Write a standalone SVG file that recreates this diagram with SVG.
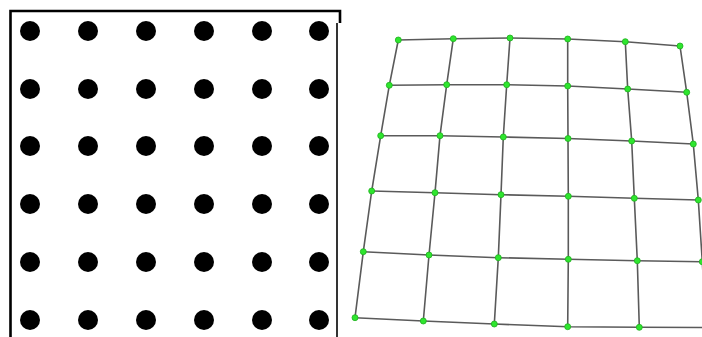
<svg xmlns="http://www.w3.org/2000/svg" width="702" height="337" viewBox="0 0 702 337">
<style>
.dot{fill:#000}
.frame{stroke:#000;fill:none}
.edge{stroke:#5a5a5a;stroke-width:1.6;fill:none}
.pt{fill:#2ee62e;stroke:#1fae1f;stroke-width:0.8}
</style>
<rect width="702" height="337" fill="#fff"/>
<g id="left-panel">
<path class="frame" stroke-width="2.6" d="M10.5 337 V11 H340 V23"/>
<path class="frame" stroke-width="1.6" d="M337 23 V337"/>
<g id="dots">
<circle class="dot" cx="30" cy="31" r="10"/><circle class="dot" cx="88" cy="31" r="10"/><circle class="dot" cx="146" cy="31" r="10"/><circle class="dot" cx="204" cy="31" r="10"/><circle class="dot" cx="262" cy="31" r="10"/><circle class="dot" cx="319" cy="31" r="10"/>
<circle class="dot" cx="30" cy="89" r="10"/><circle class="dot" cx="88" cy="89" r="10"/><circle class="dot" cx="146" cy="89" r="10"/><circle class="dot" cx="204" cy="89" r="10"/><circle class="dot" cx="262" cy="89" r="10"/><circle class="dot" cx="319" cy="89" r="10"/>
<circle class="dot" cx="30" cy="146" r="10"/><circle class="dot" cx="88" cy="146" r="10"/><circle class="dot" cx="146" cy="146" r="10"/><circle class="dot" cx="204" cy="146" r="10"/><circle class="dot" cx="262" cy="146" r="10"/><circle class="dot" cx="319" cy="146" r="10"/>
<circle class="dot" cx="30" cy="204" r="10"/><circle class="dot" cx="88" cy="204" r="10"/><circle class="dot" cx="146" cy="204" r="10"/><circle class="dot" cx="204" cy="204" r="10"/><circle class="dot" cx="262" cy="204" r="10"/><circle class="dot" cx="319" cy="204" r="10"/>
<circle class="dot" cx="30" cy="262" r="10"/><circle class="dot" cx="88" cy="262" r="10"/><circle class="dot" cx="146" cy="262" r="10"/><circle class="dot" cx="204" cy="262" r="10"/><circle class="dot" cx="262" cy="262" r="10"/><circle class="dot" cx="319" cy="262" r="10"/>
<circle class="dot" cx="30" cy="320" r="10"/><circle class="dot" cx="88" cy="320" r="10"/><circle class="dot" cx="146" cy="320" r="10"/><circle class="dot" cx="204" cy="320" r="10"/><circle class="dot" cx="262" cy="320" r="10"/><circle class="dot" cx="319" cy="320" r="10"/>
</g>
</g>
<g id="connectors">
<polyline class="edge" points="398.3,40 453.3,38.7 510,38 567.7,39 625.3,41.7 680,46"/>
<polyline class="edge" points="389.3,85.3 446.7,84.7 506.7,84.7 567.7,86 627.7,89 686.7,92.3"/>
<polyline class="edge" points="380.7,135.7 440,135.7 503.3,137 568,138.5 631.7,141 693.3,144"/>
<polyline class="edge" points="371.7,191 435,192.7 501,194.7 568.3,196.3 634.3,198.3 698.3,200"/>
<polyline class="edge" points="363.3,251.7 429,255 498.3,257.7 568.3,259.3 637.3,260.7 702.3,261.7"/>
<polyline class="edge" points="355,317.7 423.3,321 494.3,324 567.7,326.7 639.3,327.3 706,327.5"/>
<polyline class="edge" points="398.3,40 389.3,85.3 380.7,135.7 371.7,191 363.3,251.7 355,317.7"/>
<polyline class="edge" points="453.3,38.7 446.7,84.7 440,135.7 435,192.7 429,255 423.3,321"/>
<polyline class="edge" points="510,38 506.7,84.7 503.3,137 501,194.7 498.3,257.7 494.3,324"/>
<polyline class="edge" points="567.7,39 567.7,86 568,138.5 568.3,196.3 568.3,259.3 567.7,326.7"/>
<polyline class="edge" points="625.3,41.7 627.7,89 631.7,141 634.3,198.3 637.3,260.7 639.3,327.3"/>
<polyline class="edge" points="680,46 686.7,92.3 693.3,144 698.3,200 702.3,261.7 706,327.5"/>
</g>
<g id="nodes">
<g id="n00"><circle class="pt" cx="398.3" cy="40" r="3"/></g>
<g id="n01"><circle class="pt" cx="453.3" cy="38.7" r="3"/></g>
<g id="n02"><circle class="pt" cx="510" cy="38" r="3"/></g>
<g id="n03"><circle class="pt" cx="567.7" cy="39" r="3"/></g>
<g id="n04"><circle class="pt" cx="625.3" cy="41.7" r="3"/></g>
<g id="n05"><circle class="pt" cx="680" cy="46" r="3"/></g>
<g id="n10"><circle class="pt" cx="389.3" cy="85.3" r="3"/></g>
<g id="n11"><circle class="pt" cx="446.7" cy="84.7" r="3"/></g>
<g id="n12"><circle class="pt" cx="506.7" cy="84.7" r="3"/></g>
<g id="n13"><circle class="pt" cx="567.7" cy="86" r="3"/></g>
<g id="n14"><circle class="pt" cx="627.7" cy="89" r="3"/></g>
<g id="n15"><circle class="pt" cx="686.7" cy="92.3" r="3"/></g>
<g id="n20"><circle class="pt" cx="380.7" cy="135.7" r="3"/></g>
<g id="n21"><circle class="pt" cx="440" cy="135.7" r="3"/></g>
<g id="n22"><circle class="pt" cx="503.3" cy="137" r="3"/></g>
<g id="n23"><circle class="pt" cx="568" cy="138.5" r="3"/></g>
<g id="n24"><circle class="pt" cx="631.7" cy="141" r="3"/></g>
<g id="n25"><circle class="pt" cx="693.3" cy="144" r="3"/></g>
<g id="n30"><circle class="pt" cx="371.7" cy="191" r="3"/></g>
<g id="n31"><circle class="pt" cx="435" cy="192.7" r="3"/></g>
<g id="n32"><circle class="pt" cx="501" cy="194.7" r="3"/></g>
<g id="n33"><circle class="pt" cx="568.3" cy="196.3" r="3"/></g>
<g id="n34"><circle class="pt" cx="634.3" cy="198.3" r="3"/></g>
<g id="n35"><circle class="pt" cx="698.3" cy="200" r="3"/></g>
<g id="n40"><circle class="pt" cx="363.3" cy="251.7" r="3"/></g>
<g id="n41"><circle class="pt" cx="429" cy="255" r="3"/></g>
<g id="n42"><circle class="pt" cx="498.3" cy="257.7" r="3"/></g>
<g id="n43"><circle class="pt" cx="568.3" cy="259.3" r="3"/></g>
<g id="n44"><circle class="pt" cx="637.3" cy="260.7" r="3"/></g>
<g id="n45"><circle class="pt" cx="702.3" cy="261.7" r="3"/></g>
<g id="n50"><circle class="pt" cx="355" cy="317.7" r="3"/></g>
<g id="n51"><circle class="pt" cx="423.3" cy="321" r="3"/></g>
<g id="n52"><circle class="pt" cx="494.3" cy="324" r="3"/></g>
<g id="n53"><circle class="pt" cx="567.7" cy="326.7" r="3"/></g>
<g id="n54"><circle class="pt" cx="639.3" cy="327.3" r="3"/></g>
</g>
</svg>
